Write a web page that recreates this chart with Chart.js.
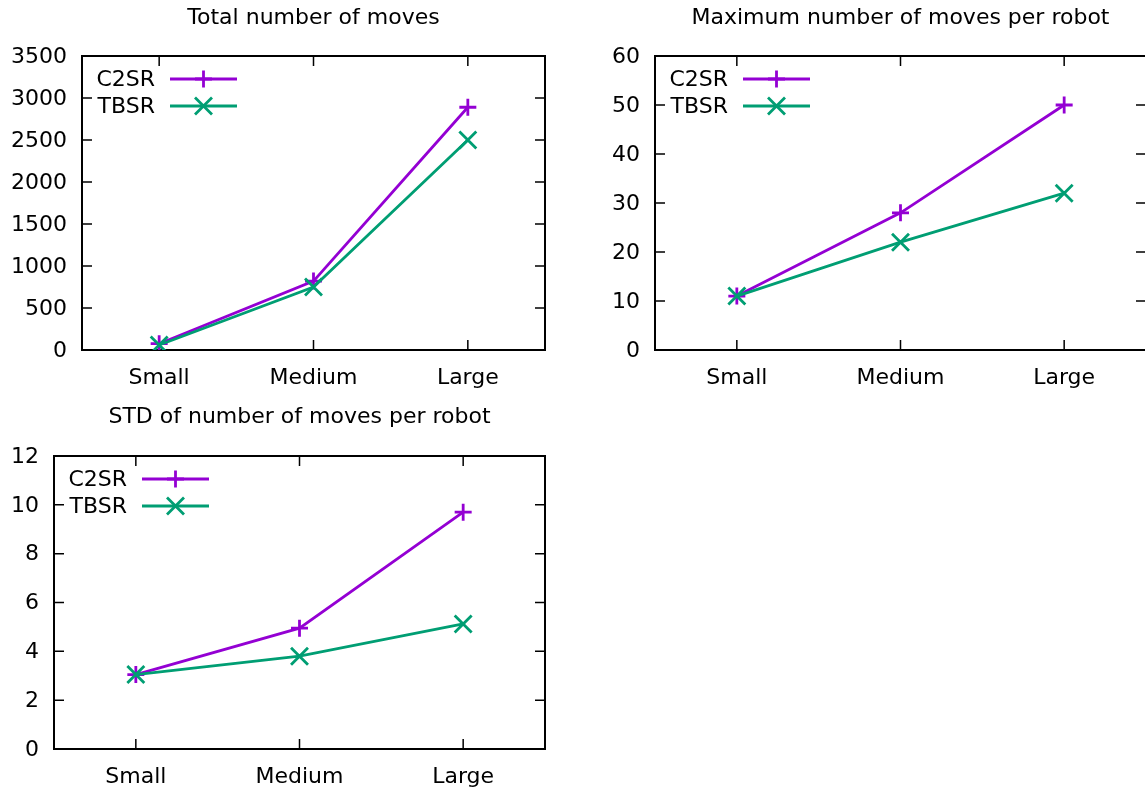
<!DOCTYPE html>
<html><head><meta charset="utf-8">
<script src="https://cdn.jsdelivr.net/npm/chart.js@4.4.1/dist/chart.umd.min.js"></script>
<style>
html,body{margin:0;padding:0;background:#fff;overflow:hidden;width:1145px;height:791px;position:relative;}
canvas{position:absolute;}
</style></head><body>
<canvas id="c1" width="560" height="395" style="left:0px;top:0px;width:560px;height:395px"></canvas>
<canvas id="c2" width="586" height="395" style="left:575px;top:0px;width:586px;height:395px"></canvas>
<canvas id="c3" width="560" height="391" style="left:0px;top:400px;width:560px;height:391px"></canvas>
<script>
// ---- data ----
const categories = ['Small', 'Medium', 'Large'];
const seriesNames = ['C2SR', 'TBSR'];
const totalC2SR = [75, 820, 2890];
const totalTBSR = [60, 750, 2500];
const maxC2SR = [11, 28, 50];
const maxTBSR = [11, 22, 32];
const stdC2SR = [3.05, 4.95, 9.7];
const stdTBSR = [3.05, 3.8, 5.12];
const totalTicks = [0, 500, 1000, 1500, 2000, 2500, 3000, 3500];
const maxTicks = [0, 10, 20, 30, 40, 50, 60];
const stdTicks = [0, 2, 4, 6, 8, 10, 12];
const titles = ['Total number of moves', 'Maximum number of moves per robot', 'STD of number of moves per robot'];

const FONT = 'DejaVu Sans';
const FS = 22;
const PURPLE = '#9400D3';
const GREEN = '#009E73';
const LW = 2.8;

function drawMarker(ctx, style, x, y, r) {
  ctx.beginPath();
  if (style === 'cross') {
    ctx.moveTo(x - r, y); ctx.lineTo(x + r, y);
    ctx.moveTo(x, y - r); ctx.lineTo(x, y + r);
  } else {
    ctx.moveTo(x - r, y - r); ctx.lineTo(x + r, y + r);
    ctx.moveTo(x - r, y + r); ctx.lineTo(x + r, y - r);
  }
  ctx.stroke();
}

const gnuplotDecor = {
  id: 'gnuplotDecor',
  beforeDatasetsDraw(chart, args, opts) {
    const ctx = chart.ctx, ca = chart.chartArea;
    const xs = chart.scales.x, ys = chart.scales.y;
    ctx.save();
    ctx.strokeStyle = '#000';
    ctx.lineWidth = 1.5;
    ctx.beginPath();
    ys.ticks.forEach(t => {
      const p = ys.getPixelForValue(t.value);
      ctx.moveTo(ca.left, p); ctx.lineTo(ca.left + 10, p);
      ctx.moveTo(ca.right, p); ctx.lineTo(ca.right - 10, p);
    });
    xs.ticks.forEach((t, i) => {
      const p = xs.getPixelForTick(i);
      ctx.moveTo(p, ca.bottom); ctx.lineTo(p, ca.bottom - 10);
      ctx.moveTo(p, ca.top); ctx.lineTo(p, ca.top + 10);
    });
    ctx.stroke();
    ctx.lineWidth = 2;
    ctx.strokeRect(ca.left, ca.top, ca.right - ca.left, ca.bottom - ca.top);
    ctx.restore();
  },
  afterDraw(chart, args, opts) {
    const ctx = chart.ctx, ca = chart.chartArea;
    ctx.save();
    ctx.fillStyle = '#000';
    ctx.font = FS + 'px "' + FONT + '"';
    ctx.textAlign = 'center';
    ctx.textBaseline = 'middle';
    ctx.fillText(opts.title, (ca.left + ca.right) / 2, opts.titleY);
    // legend
    chart.data.datasets.forEach((ds, i) => {
      const y = ca.top + 23 + i * 27;
      ctx.fillStyle = '#000';
      ctx.textAlign = 'right';
      ctx.fillText(ds.label, ca.left + 73, y + 1);
      ctx.strokeStyle = ds.borderColor;
      ctx.lineWidth = LW;
      ctx.beginPath();
      ctx.moveTo(ca.left + 88, y); ctx.lineTo(ca.left + 155, y);
      ctx.stroke();
      drawMarker(ctx, ds.pointStyle, ca.left + 121.5, y, 8.5);
    });
    ctx.restore();
  }
};

function makeChart(id, c2sr, tbsr, ticks, title, yWidth, xHeight, rightPad, titleY) {
  return new Chart(document.getElementById(id), {
    type: 'line',
    data: {
      labels: categories,
      datasets: [
        { label: seriesNames[0], data: c2sr, borderColor: PURPLE, backgroundColor: PURPLE,
          borderWidth: LW, pointStyle: 'cross', pointRadius: 8.5, pointBorderWidth: LW,
          pointHoverRadius: 8.5, fill: false, tension: 0, order: 1 },
        { label: seriesNames[1], data: tbsr, borderColor: GREEN, backgroundColor: GREEN,
          borderWidth: LW, pointStyle: 'crossRot', pointRadius: 12, pointBorderWidth: LW,
          pointHoverRadius: 12, fill: false, tension: 0, order: 0 }
      ]
    },
    options: {
      responsive: false,
      animation: false,
      events: [],
      devicePixelRatio: 1,
      layout: { padding: { left: 0, right: rightPad, top: 56, bottom: 0 } },
      plugins: {
        legend: { display: false },
        tooltip: { enabled: false },
        title: { display: false },
        gnuplotDecor: { title: title, titleY: titleY }
      },
      scales: {
        x: {
          type: 'category',
          offset: true,
          grid: { display: false, drawTicks: false, offset: false },
          border: { display: false },
          ticks: { color: '#000', font: { family: FONT, size: FS }, padding: 15, maxRotation: 0, autoSkip: false },
          afterFit(s) { s.height = xHeight; }
        },
        y: {
          type: 'linear',
          min: ticks[0],
          max: ticks[ticks.length - 1],
          grid: { display: false, drawTicks: false },
          border: { display: false },
          ticks: { color: '#000', font: { family: FONT, size: FS }, padding: 15, labelOffset: 1,
                   callback: v => String(v) },
          afterBuildTicks(s) { s.ticks = ticks.map(v => ({ value: v })); },
          afterFit(s) { s.width = yWidth; }
        }
      }
    },
    plugins: [gnuplotDecor]
  });
}

makeChart('c1', totalC2SR, totalTBSR, totalTicks, titles[0], 82, 45, 15, 18);
makeChart('c2', maxC2SR, maxTBSR, maxTicks, titles[1], 80, 45, 15, 18);
makeChart('c3', stdC2SR, stdTBSR, stdTicks, titles[2], 54, 42, 15, 17);
</script>
</body></html>
